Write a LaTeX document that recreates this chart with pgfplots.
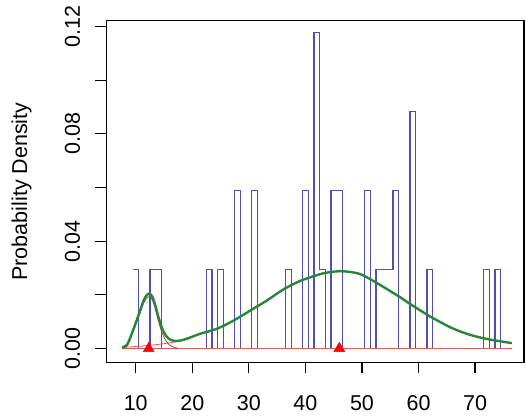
\documentclass[border=0pt]{standalone}
\usepackage{fontspec}
\setmainfont{Liberation Sans}
\usepackage{pgfplots}
\pgfplotsset{compat=1.18}
\definecolor{histblue}{RGB}{80,80,175}
\definecolor{mixgreen}{RGB}{40,135,55}
\definecolor{basered}{RGB}{225,90,90}
\definecolor{compone}{RGB}{150,70,50}
\begin{document}
\begin{tikzpicture}
\path[use as bounding box] (0,0) rectangle (526pt,419pt);
\begin{axis}[
 at={(106.5pt,56.5pt)}, anchor=south west,
 scale only axis, width=417.5pt, height=342pt,
 xmin=4.83, xmax=78.65, ymin=-0.00522, ymax=0.12224,
 axis line style={draw=black, line width=1.4pt},
 xtick pos=bottom, ytick pos=left,
 tick align=outside, tick style={black, line width=1.2pt},
 major tick length=11pt, minor tick length=11pt,
 xtick={10,20,30,40,50,60,70},
 ytick={0,0.04,0.08,0.12}, minor ytick={0.02,0.06,0.10},
 font=\fontsize{21.5}{25}\selectfont,
 /pgf/number format/assume math mode=true,
 xticklabel style={anchor=center, yshift=-30pt},
 yticklabel style={anchor=center, xshift=-23pt, rotate=90,
   /pgf/number format/fixed, /pgf/number format/fixed zerofill,
   /pgf/number format/precision=2},
 ylabel={Probability Density},
 every axis y label/.style={at={(axis description cs:0,0.5)}, anchor=center, xshift=-85pt, rotate=90},
]
% histogram outline (density, bin width 1, n = 34)
\addplot[histblue, line width=1.3pt, const plot] coordinates {
(9.5,0.02941) (10.5,0) (12.5,0.02941) (14.5,0) (22.5,0.02941) (23.5,0)
(24.5,0.02941) (25.5,0) (27.5,0.05882) (28.5,0) (30.5,0.05882) (31.5,0)
(36.5,0.02941) (37.5,0) (39.5,0.05882) (40.5,0) (41.5,0.11765) (42.5,0.02941)
(43.5,0) (44.5,0.05882) (46.5,0) (50.5,0.05882) (51.5,0) (52.5,0.02941)
(55.5,0.05882) (56.5,0) (58.5,0.08824) (59.5,0) (61.5,0.02941) (62.5,0)
(71.5,0.02941) (72.5,0) (73.5,0.02941) (74.5,0)
};
% baseline
\addplot[basered, line width=1.2pt] coordinates {(7.6,0) (76.5,0)};
% component 2 (left tail visible)
\addplot[basered, line width=0.8pt] coordinates {
(7.6,0.0004) (9,0.0006) (10.5,0.0008) (12,0.0011) (13.5,0.0014) (15,0.0018) (16.5,0.0023) (18,0.0029) (19.5,0.0037)
};
% component 1
\addplot[compone, line width=0.8pt, smooth] coordinates {
(7.6,0.0001) (8.5,0.0009) (9.65,0.0069) (10.5,0.0117) (11.4,0.0169) (12.0,0.0189) (12.5,0.0192)
(13.0,0.0177) (13.5,0.0144) (14.0,0.0103) (14.7,0.0056) (15.4,0.0027) (16.1,0.0011) (17.0,0.0003) (17.5,0.0001)
};
% mixture density
\addplot[mixgreen, line width=2.4pt, smooth] coordinates {
(7.6,0.0005) (8.5,0.0015) (9.65,0.0075) (10.5,0.0125) (11.4,0.0179) (12.0,0.0200) (12.5,0.0204)
(13.0,0.0190) (13.5,0.0158) (14.0,0.0118) (14.7,0.0073) (15.4,0.0046) (16.1,0.0033) (17.0,0.0028)
(18.0,0.0030) (19.5,0.0040) (21.4,0.0055) (24.4,0.0074) (27.3,0.0104) (30.3,0.0142) (33.2,0.0179)
(36.1,0.0220) (39.1,0.0252) (42.6,0.0277) (44.5,0.0285) (46.2,0.0288) (48.0,0.0285) (49.7,0.0277)
(51.5,0.0258) (53.2,0.0237) (55.0,0.0214) (56.75,0.0191) (58.5,0.0166) (60.3,0.0142) (62.0,0.0120)
(63.8,0.0099) (65.5,0.0080) (67.3,0.0064) (69.1,0.0051) (70.9,0.0041) (72.7,0.0033) (74.4,0.0027) (76.5,0.0020)
};
% component means
\addplot[only marks, mark=triangle*, mark size=6.3pt, color=red, mark options={fill=red, draw=red}] coordinates {(12.3,0) (46.0,0)};
\end{axis}
\end{tikzpicture}
\end{document}
